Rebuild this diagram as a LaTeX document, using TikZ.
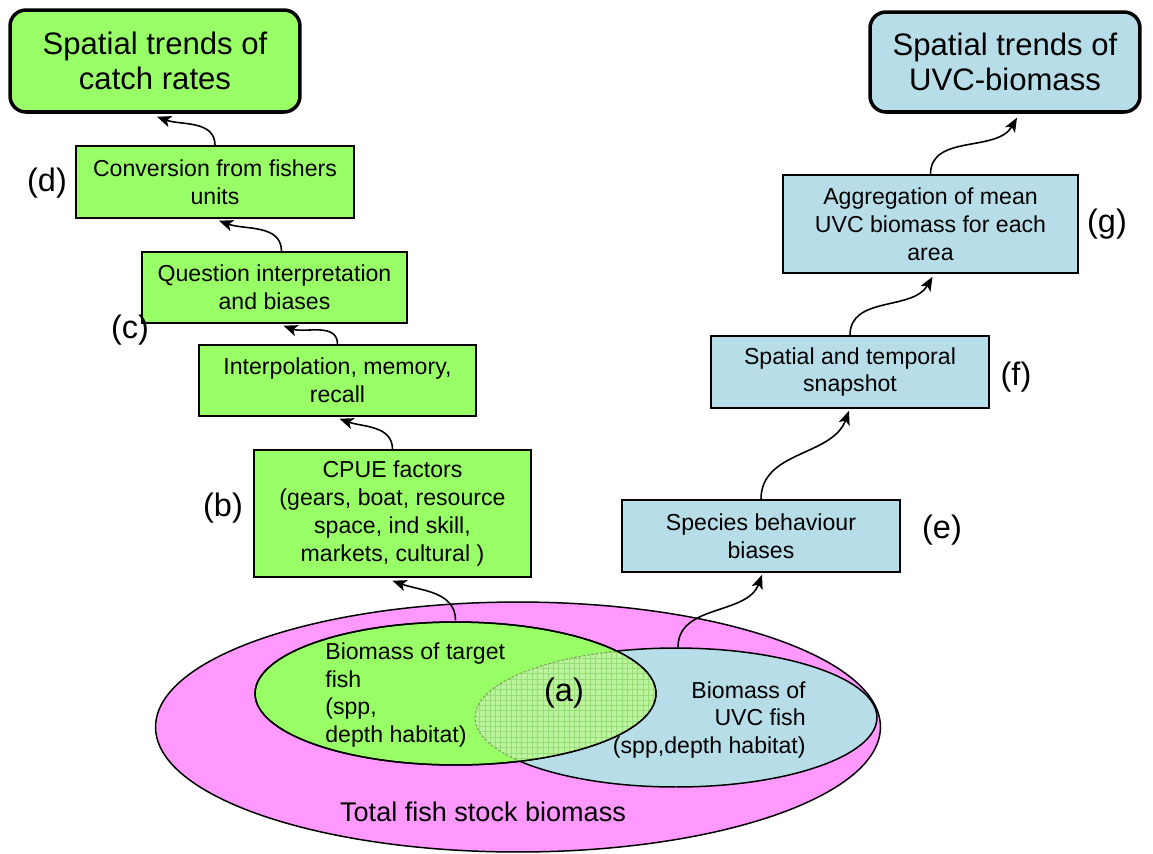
\documentclass[tikz,border=0pt]{standalone}
\usepackage{fontspec}
\setmainfont{Liberation Sans}
\usetikzlibrary{shapes.geometric,arrows.meta,patterns,calc}
\definecolor{boxgreen}{HTML}{99FF66}
\definecolor{boxblue}{HTML}{B7DEE8}
\definecolor{pinkfill}{HTML}{FF99FF}
\definecolor{overlapc}{HTML}{BDF59E}
\definecolor{gridc}{HTML}{96DC78}
\definecolor{edgec}{HTML}{7FA060}
\begin{document}
\begin{tikzpicture}[x=0.02cm,y=-0.02cm,
  txt/.style={font=\fontsize{13.15}{15.9}\selectfont},
  box/.style={draw, line width=0.85pt, rectangle, inner sep=0pt, align=center, txt},
  gbox/.style={box, fill=boxgreen},
  bbox/.style={box, fill=boxblue},
  titlebox/.style={draw, line width=2pt, rounded corners=0.32cm, inner sep=0pt, align=center,
     font=\fontsize{17.7}{20.2}\selectfont},
  lbl/.style={font=\fontsize{18.5}{22}\selectfont, inner sep=0pt},
  ell/.style={ellipse, draw, line width=0.85pt, inner sep=0pt},
  conn/.style={-{Stealth[length=8pt,width=6.5pt,inset=2pt]}, line width=0.9pt}
]
\useasboundingbox (0,0) rectangle (1153,853);

% ellipses
\node[ell, fill=pinkfill, minimum width=14.5cm, minimum height=5.0cm] (pE) at (518,727) {};
\node[ell, fill=boxblue, minimum width=8.04cm, minimum height=2.78cm] (bE) at (676,717.5) {};
\node[ell, fill=boxgreen, minimum width=8.02cm, minimum height=2.86cm] (gE) at (455.5,693.5) {};
\begin{scope}
  \clip (455.5,693.5) ellipse [x radius=4.01cm, y radius=1.43cm];
  \fill[overlapc] (676,717.5) ellipse [x radius=4.02cm, y radius=1.39cm];
  \fill[pattern=grid, pattern color=gridc] (676,717.5) ellipse [x radius=4.02cm, y radius=1.39cm];
  \draw[edgec, dashed, line width=0.6pt, dash pattern=on 1.5pt off 1pt] (676,717.5) ellipse [x radius=4.02cm, y radius=1.39cm];
\end{scope}
\draw[line width=0.85pt] (455.5,693.5) ellipse [x radius=4.01cm, y radius=1.43cm];

\node[txt, align=left, anchor=west, inner sep=0pt] (gt) at (325,695) {Biomass of target\\fish\\(spp,\\depth habitat)};
\node[txt, align=right, anchor=east, inner sep=0pt] (bt) at (806,720) {Biomass of\\UVC fish\\(spp,depth habitat)};
\node[lbl] (la) at (564,693) {(a)};
\node[font=\fontsize{15.4}{18}\selectfont, inner sep=0pt] (tot) at (483,812) {Total fish stock biomass};

% title boxes
\node[titlebox, fill=boxgreen, minimum width=5.8cm, minimum height=2.04cm] (TL) at (155,61) {Spatial trends of\\catch rates};
\node[titlebox, fill=boxblue, minimum width=5.4cm, minimum height=2.0cm] (TR) at (1005,62) {Spatial trends of\\UVC-biomass};

% left chain
\node[gbox, minimum width=5.56cm, minimum height=1.44cm] (d) at (215,182) {Conversion from fishers\\units};
\node[gbox, minimum width=5.3cm, minimum height=1.42cm] (c) at (274.5,287.5) {Question interpretation\\and biases};
\node[gbox, minimum width=5.54cm, minimum height=1.42cm] (ip) at (337.5,380.5) {Interpolation, memory,\\recall};
\node[gbox, minimum width=5.54cm, minimum height=2.54cm] (cpue) at (392.5,513.5) {CPUE factors\\(gears, boat, resource\\space, ind skill,\\markets, cultural )};

% right chain
\node[bbox, minimum width=5.56cm, minimum height=1.44cm] (sp) at (761,536) {Species behaviour\\biases};
\node[bbox, minimum width=5.56cm, minimum height=1.44cm] (st) at (850,372) {Spatial and temporal\\snapshot};
\node[bbox, minimum width=5.9cm, minimum height=1.96cm] (ag) at (930.5,224) {Aggregation of mean\\UVC biomass for each\\area};

% labels
\node[lbl] (ld) at (47,183) {(d)};
\node[lbl] (lc) at (130,330) {(c)};
\node[lbl] (lb) at (223,508) {(b)};
\node[lbl] (le) at (942,530) {(e)};
\node[lbl] (lf) at (1016,377) {(f)};
\node[lbl] (lg) at (1107,224) {(g)};

% connectors
\draw[conn] (d.north) to[out=90,in=-20] ($(TL.south)+(2,3)$);
\draw[conn] ($(c.north)+(7,0)$) to[out=90,in=-20] ($(d.south)+(4,2)$);
\draw[conn] (ip.north) to[out=90,in=-20] ($(c.south)+(9,2)$);
\draw[conn] (cpue.north) to[out=90,in=-20] ($(ip.south)+(2,2)$);
\draw[conn] ($(gE.north)+(0,-1)$) to[out=90,in=-20] ($(cpue.south)+(0,3)$);
\draw[conn] ($(bE.north)+(2,0)$) to[out=90,in=-110] ($(sp.south)+(1,2)$);
\draw[conn] (sp.north) to[out=90,in=-110] ($(st.south)+(-1,2)$);
\draw[conn] (st.north) to[out=90,in=-120] ($(ag.south)+(2,3)$);
\draw[conn] (ag.north) to[out=90,in=-120] ($(TR.south)+(12,4)$);
\end{tikzpicture}
\end{document}
